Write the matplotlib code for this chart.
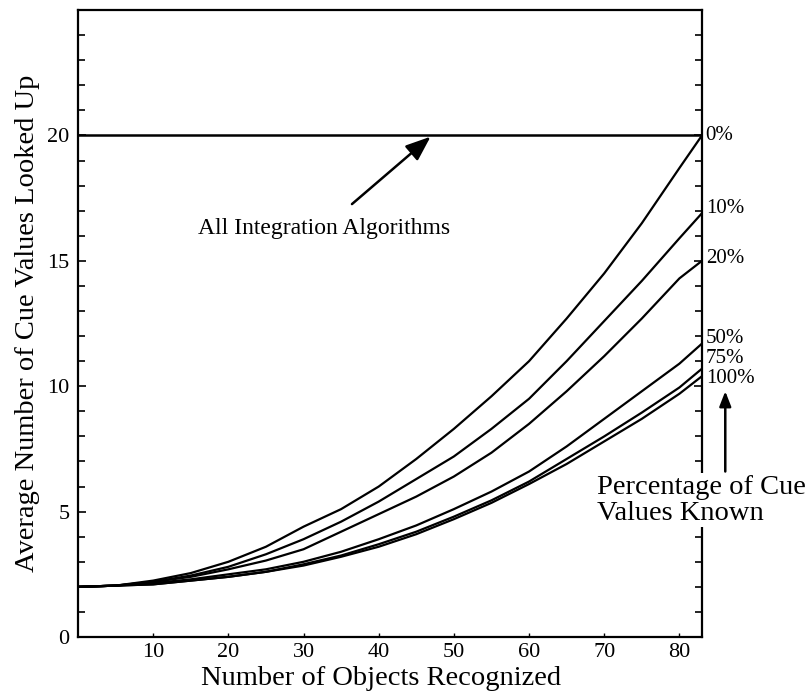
import numpy as np
import matplotlib
matplotlib.use("Agg")
from matplotlib import pyplot as plt
from matplotlib.ticker import MultipleLocator

plt.rcParams['font.family'] = ['Liberation Serif', 'DejaVu Serif']

# objects recognized (x) and average cue values looked up per % known
objects = [0, 5, 10, 15, 20, 25, 30, 35, 40, 45, 50, 55, 60, 65, 70, 75, 80, 83]
pct0 = [2.0, 2.05, 2.25, 2.55, 3.0, 3.6, 4.4, 5.1, 6.0, 7.1, 8.3, 9.6, 11.0, 12.7, 14.5, 16.5, 18.7, 20.0]
pct10 = [2.0, 2.05, 2.2, 2.45, 2.8, 3.3, 3.9, 4.6, 5.4, 6.3, 7.2, 8.3, 9.5, 11.0, 12.6, 14.2, 15.9, 16.9]
pct20 = [2.0, 2.05, 2.2, 2.4, 2.7, 3.05, 3.5, 4.2, 4.9, 5.6, 6.4, 7.35, 8.5, 9.8, 11.2, 12.7, 14.3, 15.0]
pct50 = [2.0, 2.05, 2.15, 2.3, 2.5, 2.7, 3.0, 3.4, 3.9, 4.45, 5.1, 5.8, 6.6, 7.6, 8.7, 9.8, 10.9, 11.7]
pct75 = [2.0, 2.05, 2.1, 2.25, 2.4, 2.6, 2.9, 3.25, 3.7, 4.2, 4.8, 5.45, 6.2, 7.1, 8.0, 8.95, 9.95, 10.7]
pct100 = [2.0, 2.05, 2.1, 2.25, 2.4, 2.6, 2.85, 3.2, 3.6, 4.1, 4.7, 5.35, 6.1, 6.9, 7.8, 8.7, 9.7, 10.4]
allIntegration = [20, 20]
allX = [0, 83]

series = [pct0, pct10, pct20, pct50, pct75, pct100]
labels = ["0%", "10%", "20%", "50%", "75%", "100%"]
labelY = [20.0, 17.1, 15.1, 11.9, 11.1, 10.3]

xTicks = [10, 20, 30, 40, 50, 60, 70, 80]
yTicks = [0, 5, 10, 15, 20]

fig = plt.figure(figsize=(8.09, 6.91), dpi=100)
ax = fig.add_axes([0.0964, 0.0781, 0.7713, 0.9074])

ax.plot(allX, allIntegration, color='black', lw=1.8)
for s in series:
    ax.plot(objects, s, color='black', lw=1.6)

ax.set_xlim(0, 83)
ax.set_ylim(0, 25)

for sp in ax.spines.values():
    sp.set_linewidth(1.6)

ax.set_xticks(xTicks)
ax.set_yticks(yTicks)
ax.yaxis.set_minor_locator(MultipleLocator(1))
ax.tick_params(axis='x', direction='in', length=3, width=1, labelsize=16, pad=4)
ax.tick_params(axis='y', which='major', direction='in', length=6, width=1.2,
               labelsize=16, pad=6, right=True)
ax.tick_params(axis='y', which='minor', direction='in', length=5, width=1.2, right=True)

ax.set_xlabel("Number of Objects Recognized", fontsize=20.5, labelpad=3)
ax.xaxis.label.set_x(0.486)
ax.set_ylabel("Average Number of Cue Values Looked Up", fontsize=20.5, labelpad=5)

for lab, yv in zip(labels, labelY):
    ax.text(83.5, yv, lab, fontsize=15, va='center', ha='left', clip_on=False)

ax.annotate("All Integration Algorithms", xy=(46.9, 19.95), xytext=(32.7, 16.3),
            fontsize=17, ha='center', va='center',
            arrowprops=dict(arrowstyle='-|>,head_length=0.9,head_width=0.35',
                            color='black', lw=1.8, shrinkA=12, shrinkB=0))

ax.annotate("", xy=(86.1, 9.8), xytext=(86.1, 6.6),
            arrowprops=dict(arrowstyle='-|>,head_length=0.9,head_width=0.35',
                            color='black', lw=1.8, shrinkA=0, shrinkB=0),
            annotation_clip=False)
ax.text(69.0, 5.45, "Percentage of Cue\nValues Known", fontsize=20.5, ha='left',
        va='center', linespacing=1.05, clip_on=False, zorder=5,
        bbox=dict(facecolor='white', edgecolor='none', pad=1))

fig.savefig("out.png", dpi=100)
